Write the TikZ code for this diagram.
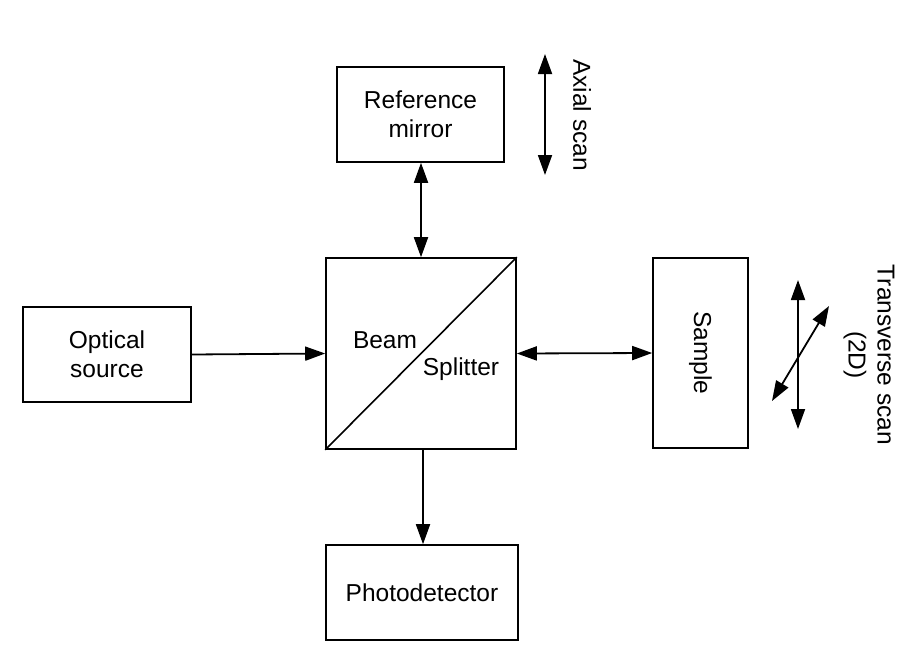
\documentclass[tikz,border=0pt]{standalone}
\usepackage{fontspec}
\setmainfont{Liberation Sans}
\usetikzlibrary{arrows.meta}
\begin{document}
\begin{tikzpicture}[x=1pt,y=-1pt,
  box/.style={draw,line width=1.6pt,inner sep=0pt,align=center,font=\fontsize{24.5}{29}\selectfont},
  lbl/.style={inner sep=0pt,align=center,font=\fontsize{24.5}{29}\selectfont},
  conn/.style={line width=1.8pt,-{Triangle[width=14pt,length=20pt]}},
  dconn/.style={line width=1.8pt,{Triangle[width=14pt,length=20pt]}-{Triangle[width=14pt,length=20pt]}}]
\useasboundingbox (0,0) rectangle (918,664);
\node[box,minimum width=167pt,minimum height=95pt] (ref) at (420.5,114.5) {Reference\\mirror};
\node[box,minimum width=190pt,minimum height=191pt] (bs) at (421,353.5) {};
\node[box,minimum width=168pt,minimum height=95pt] (src) at (107,354.5) {Optical\\source};
\node[box,minimum width=95pt,minimum height=190pt] (smp) at (700.5,353) {};
\node[lbl,rotate=-90] (smplbl) at (700.5,353) {Sample};
\node[box,minimum width=192pt,minimum height=95pt] (pd) at (422,592.5) {Photodetector};
\draw[line width=1.6pt] (bs.south west) -- (bs.north east);
\node[lbl] (beam) at (385,340) {Beam};
\node[lbl] (split) at (461,369) {Splitter};
\draw[conn] (src.east) -- (bs.west);
\draw[dconn] (ref.south -| 421,0) -- (bs.north -| 421,0);
\draw[dconn] (bs.east) -- (smp.west);
\draw[conn] (bs.south -| 423,0) -- (pd.north -| 423,0);
\coordinate (ax1) at (545,54);
\coordinate (ax2) at (545,175);
\draw[dconn] (ax1) -- (ax2);
\node[lbl,rotate=-90] (axlbl) at (582,115) {Axial scan};
\coordinate (tv1) at (798,280);
\coordinate (tv2) at (798,429);
\coordinate (td1) at (772,401);
\coordinate (td2) at (829,306);
\draw[dconn] (tv1) -- (tv2);
\draw[dconn] (td1) -- (td2);
\node[lbl,rotate=-90] (tvlbl) at (869,355) {Transverse scan\\(2D)};
\end{tikzpicture}
\end{document}
